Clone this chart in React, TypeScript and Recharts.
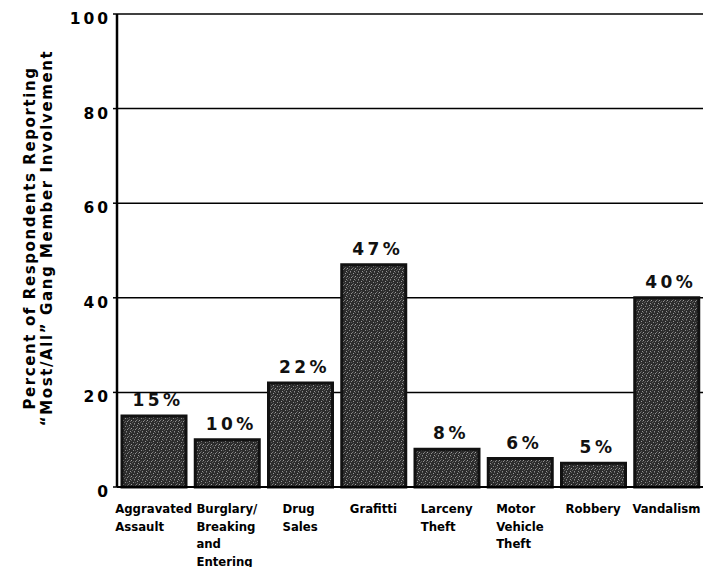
import React from "react";
import { BarChart, Bar, XAxis, YAxis, CartesianGrid, LabelList } from "recharts";

const categories = [
  "Aggravated Assault",
  "Burglary/ Breaking and Entering",
  "Drug Sales",
  "Grafitti",
  "Larceny Theft",
  "Motor Vehicle Theft",
  "Robbery",
  "Vandalism",
];
const tickLabelLines = [
  ["Aggravated", "Assault"],
  ["Burglary/", "Breaking", "and", "Entering"],
  ["Drug", "Sales"],
  ["Grafitti"],
  ["Larceny", "Theft"],
  ["Motor", "Vehicle", "Theft"],
  ["Robbery"],
  ["Vandalism"],
];
const percentValues = [15, 10, 22, 47, 8, 6, 5, 40];
const yTicks = [0, 20, 40, 60, 80, 100];
const yTitleLines = ["Percent of Respondents Reporting", "\u201CMost/All\u201D Gang Member Involvement"];

const data = categories.map((name, i) => ({ name, value: percentValues[i] }));

const X_FONT = "'DejaVu Sans Condensed', 'DejaVu Sans', sans-serif";
const X_FONT_SIZE = 13;

let canvasCtx: CanvasRenderingContext2D | null = null;
function measure(text: string): number {
  if (!canvasCtx) {
    const c = document.createElement("canvas");
    canvasCtx = c.getContext("2d");
  }
  if (!canvasCtx) return text.length * 7.3;
  canvasCtx.font = `bold ${X_FONT_SIZE}px ${X_FONT}`;
  return canvasCtx.measureText(text).width;
}

const XTick = (props: any) => {
  const { x, y, index } = props;
  const lines = tickLabelLines[index] || [];
  const maxW = Math.max(...lines.map((l) => measure(l)));
  const left = x - maxW / 2;
  return (
    <g>
      {lines.map((l, i) => (
        <text
          key={i}
          x={left}
          y={y + 26 + i * 17.7}
          textAnchor="start"
          fontFamily={X_FONT}
          fontStretch="condensed"
          fontWeight="bold"
          fontSize={X_FONT_SIZE}
          fill="#000"
        >
          {l}
        </text>
      ))}
    </g>
  );
};

const YTick = (props: any) => {
  const { x, y, payload } = props;
  return (
    <text
      x={x}
      y={y + 10}
      textAnchor="end"
      fontFamily="'DejaVu Sans', sans-serif"
      fontWeight="bold"
      fontSize={15.5}
      letterSpacing={3}
      fill="#000"
    >
      {payload.value}
    </text>
  );
};

const YTitle = () => (
  <g>
    {yTitleLines.map((t, i) => (
      <text
        key={i}
        transform={`translate(${35 + i * 17}, 238) rotate(-90)`}
        textAnchor="middle"
        fontFamily="'DejaVu Sans', sans-serif"
        fontWeight="bold"
        fontSize={15}
        letterSpacing={1.6}
        fill="#000"
      >
        {t}
      </text>
    ))}
  </g>
);

const renderBarLabel = (props: any) => {
  const { x, y, width, value } = props;
  return (
    <text
      x={Number(x) + Number(width) / 2 + 4}
      y={Number(y) - 10}
      textAnchor="middle"
      fontFamily="'DejaVu Sans', sans-serif"
      fontWeight="bold"
      fontSize={17}
      letterSpacing={3.5}
      fill="#111"
    >
      {value}%
    </text>
  );
};

export default function App() {
  return (
    <div style={{ position: "absolute", left: 0, top: 0, width: 718, height: 567, background: "#fff" }}>
      <BarChart
        width={718}
        height={567}
        data={data}
        margin={{ top: 14, right: 15, bottom: 0, left: 0 }}
        barSize={64}
      >
        <defs>
          <pattern id="barTexture" width="8" height="8" patternUnits="userSpaceOnUse">
            <rect width="8" height="8" fill="#2c2c2c" />
            <rect x="1" y="1" width="1" height="1" fill="#9a9a9a" />
            <rect x="5" y="2" width="1" height="1" fill="#8c8c8c" />
            <rect x="3" y="4" width="1" height="1" fill="#a0a0a0" />
            <rect x="7" y="5" width="1" height="1" fill="#909090" />
            <rect x="2" y="7" width="1" height="1" fill="#959595" />
            <rect x="6" y="7" width="1" height="1" fill="#888" />
            <rect x="0" y="4" width="1" height="1" fill="#7a7a7a" />
            <rect x="3" y="0" width="1" height="1" fill="#5e5e5e" />
            <rect x="6" y="0" width="1" height="1" fill="#606060" />
            <rect x="1" y="3" width="1" height="1" fill="#5a5a5a" />
            <rect x="4" y="6" width="1" height="1" fill="#5e5e5e" />
            <rect x="7" y="2" width="1" height="1" fill="#585858" />
            <rect x="2" y="5" width="1" height="1" fill="#626262" />
            <rect x="5" y="5" width="1" height="1" fill="#5c5c5c" />
          </pattern>
        </defs>
        <CartesianGrid vertical={false} stroke="#000" strokeWidth={1.5} />
        <XAxis
          dataKey="name"
          height={80}
          interval={0}
          tick={<XTick />}
          tickLine={false}
          tickSize={0}
          tickMargin={0}
          axisLine={{ stroke: "#000", strokeWidth: 2 }}
        />
        <YAxis
          width={117}
          domain={[0, 100]}
          ticks={yTicks}
          interval={0}
          tick={<YTick />}
          tickSize={4}
          tickMargin={2}
          tickLine={{ stroke: "#000", strokeWidth: 1.5 }}
          axisLine={{ stroke: "#000", strokeWidth: 2.5 }}
          label={<YTitle />}
        />
        <YAxis
          yAxisId="right"
          orientation="right"
          width={0}
          tick={false}
          tickLine={false}
          axisLine={{ stroke: "#000", strokeWidth: 2 }}
        />
        <Bar
          dataKey="value"
          fill="url(#barTexture)"
          stroke="#111"
          strokeWidth={3}
          isAnimationActive={false}
        >
          <LabelList dataKey="value" content={renderBarLabel} />
        </Bar>
      </BarChart>
    </div>
  );
}
